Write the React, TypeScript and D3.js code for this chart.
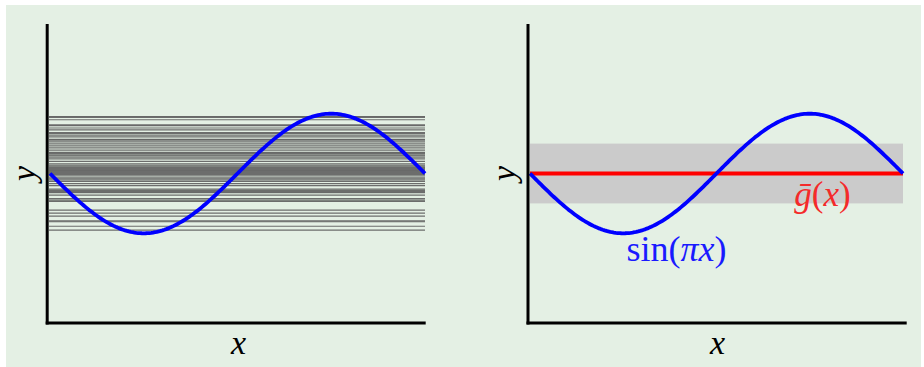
import React from "react";
import * as d3 from "d3";

// Constant hypotheses h(x) = b fitted on different data sets (left panel)
const constantFits: number[] = [
  0.953, 0.938, 0.899, 0.815, 0.802, 0.761, 0.731, 0.686, 0.669, 0.642,
  0.613, 0.571, 0.558, 0.528, 0.496, 0.461, 0.429, 0.39, 0.353, 0.336,
  0.311, 0.294, 0.272, 0.244, 0.202, 0.16, 0.138, 0.121, 0.101, 0.084,
  0.067, 0.05, 0.034, 0.017, 0.0, -0.017, -0.039, -0.071, -0.089, -0.109,
  -0.131, -0.168, -0.202, -0.261, -0.281, -0.303, -0.319, -0.361, -0.42,
  -0.445, -0.467, -0.613, -0.664, -0.714, -0.793, -0.807, -0.882, -0.946,
];

// Average hypothesis and its spread (right panel)
const gBar = 0;
const spreadBand: [number, number] = [-0.5, 0.5];

// Target function sin(pi x) on [-1, 1]
const xDomain: [number, number] = [-1, 1];
const sampleX: number[] = d3.range(0, 201).map((i) => -1 + i / 100);

const axisLabelX = "x";
const axisLabelY = "y";

const W = 924;
const H = 367;
const BG = "#e4f0e4";
const FONT = "'Liberation Serif', 'DejaVu Serif', serif";

const yScale = d3.scaleLinear().domain([-2.5, 2.5]).range([323, 24]);

type PanelProps = {
  axisX: number;
  axisEnd: number;
  curveRange: [number, number];
  yLabelX: number;
  children?: (x: d3.ScaleLinear<number, number>) => React.ReactNode;
};

function Panel({ axisX, axisEnd, curveRange, yLabelX, children }: PanelProps) {
  const x = d3.scaleLinear().domain(xDomain).range(curveRange);
  const line = d3
    .line<number>()
    .x((d) => x(d))
    .y((d) => yScale(Math.sin(Math.PI * d)))
    .curve(d3.curveLinear);
  const yTop = yScale.range()[1];
  const yBottom = yScale.range()[0];
  const mid = (x(xDomain[0]) + x(xDomain[1])) / 2;
  return (
    <g>
      {children ? children(x) : null}
      <path d={line(sampleX) || ""} fill="none" stroke="#0000ff" strokeWidth={3.8} strokeLinejoin="round" />
      {/* axes */}
      <line x1={axisX} x2={axisX} y1={yTop} y2={yBottom + 1.5} stroke="#000" strokeWidth={3} />
      <line x1={axisX - 1.5} x2={axisEnd} y1={yBottom} y2={yBottom} stroke="#000" strokeWidth={3} />
      <text
        x={mid + 1}
        y={354}
        fontFamily={FONT}
        fontStyle="italic"
        fontSize={34}
        textAnchor="middle"
        fill="#000"
      >
        {axisLabelX}
      </text>
      <text
        transform={`translate(${yLabelX},${yScale(0)}) rotate(-90)`}
        fontFamily={FONT}
        fontStyle="italic"
        fontSize={34}
        textAnchor="middle"
        fill="#000"
      >
        {axisLabelY}
      </text>
    </g>
  );
}

export default function App() {
  return (
    <svg
      width={W}
      height={H}
      viewBox={`0 0 ${W} ${H}`}
      style={{ position: "absolute", left: 0, top: 0, display: "block" }}
    >
      <rect x={0} y={0} width={W} height={H} fill="#fff" />
      <rect x={6} y={5} width={915} height={362} fill={BG} />

      <Panel axisX={47.2} axisEnd={425.7} curveRange={[50, 425]} yLabelX={35}>
        {(x) => (
          <g>
            {constantFits.map((b, i) => (
              <line
                key={i}
                x1={x(xDomain[0]) - 1}
                x2={x(xDomain[1])}
                y1={yScale(b)}
                y2={yScale(b)}
                stroke="#5e5e5e"
                strokeWidth={1.2}
                strokeOpacity={0.9}
              />
            ))}
          </g>
        )}
      </Panel>

      <Panel axisX={528} axisEnd={906.7} curveRange={[530, 903]} yLabelX={515}>
        {(x) => (
          <g>
            <rect
              x={x(xDomain[0])}
              width={x(xDomain[1]) - x(xDomain[0])}
              y={yScale(spreadBand[1])}
              height={yScale(spreadBand[0]) - yScale(spreadBand[1])}
              fill="#cbcbcb"
            />
            <line
              x1={x(xDomain[0])}
              x2={x(xDomain[1])}
              y1={yScale(gBar)}
              y2={yScale(gBar)}
              stroke="#ff0000"
              strokeWidth={3.8}
            />
          </g>
        )}
      </Panel>

      {/* curve labels */}
      <text x={676.5} y={261} fontFamily={FONT} fontSize={36} textAnchor="middle" fill="#1a1aff">
        sin(<tspan fontStyle="italic">πx</tspan>)
      </text>
      <text x={822.5} y={206} fontFamily={FONT} fontSize={35} textAnchor="middle" fill="#f42a2a">
        <tspan fontStyle="italic">{"g\u0304"}</tspan>(<tspan fontStyle="italic">x</tspan>)
      </text>
    </svg>
  );
}
